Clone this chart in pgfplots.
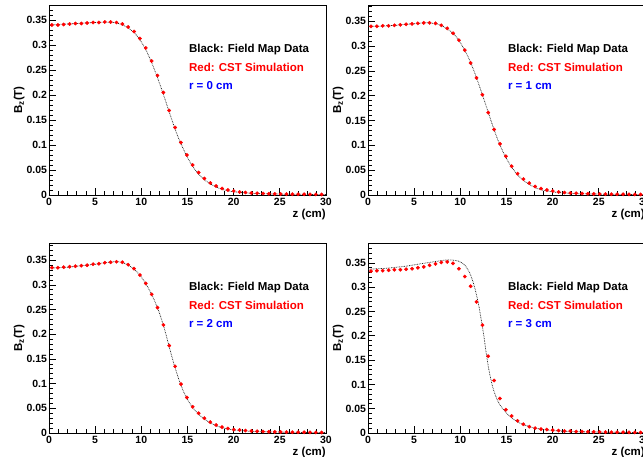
\documentclass[border=0pt]{standalone}
\usepackage{pgfplots}
\usepackage{pgfplotstable}
\pgfplotsset{compat=1.18}
\usepackage{fontspec}
\setmainfont{Liberation Sans}

\pgfplotstableread{
z     b0     b1     b2     b3
0     0.340  0.340  0.334  0.337
1     0.341  0.340  0.335  0.338
2     0.342  0.341  0.336  0.339
3     0.343  0.342  0.338  0.341
4     0.344  0.344  0.340  0.343
5     0.345  0.345  0.342  0.346
6     0.3455 0.347  0.345  0.349
6.5   0.3455 0.347  0.346  0.3505
7     0.345  0.346  0.347  0.352
7.5   0.343  0.345  0.347  0.3535
8     0.340  0.341  0.345  0.355
8.5   0.335  0.336  0.341  0.356
9     0.328  0.329  0.335  0.356
9.5   0.319  0.320  0.327  0.355
10    0.306  0.307  0.316  0.352
10.5  0.290  0.291  0.302  0.345
11    0.270  0.272  0.285  0.330
11.5  0.247  0.249  0.265  0.303
12    0.222  0.223  0.241  0.262
12.5  0.195  0.196  0.211  0.205
13    0.167  0.168  0.176  0.140
13.5  0.140  0.140  0.142  0.095
14    0.115  0.114  0.112  0.068
14.5  0.094  0.092  0.087  0.052
15    0.075  0.073  0.068  0.041
15.5  0.059  0.058  0.053  0.032
16    0.046  0.045  0.042  0.025
16.5  0.036  0.035  0.033  0.020
17    0.028  0.027  0.026  0.016
17.5  0.022  0.021  0.020  0.013
18    0.017  0.016  0.016  0.010
18.5  0.013  0.012  0.012  0.0085
19    0.010  0.0095 0.0095 0.007
19.5  0.008  0.0078 0.0078 0.006
20    0.0065 0.0063 0.0063 0.005
21    0.0045 0.0045 0.0045 0.0038
22    0.0033 0.0033 0.0033 0.003
23    0.0026 0.0026 0.0026 0.0025
24    0.0021 0.0021 0.0021 0.0021
25    0.0018 0.0018 0.0018 0.0018
26    0.0015 0.0015 0.0015 0.0015
27    0.0013 0.0013 0.0013 0.0013
28    0.0011 0.0011 0.0011 0.0011
29    0.0010 0.0010 0.0010 0.0010
30    0.0009 0.0009 0.0009 0.0009
}\blackdata

\pgfplotstableread{
z      r0     r1     r2     r3
0.32   0.340  0.340  0.335  0.333
0.96   0.340  0.340  0.335  0.334
1.59   0.341  0.341  0.336  0.334
2.23   0.342  0.341  0.337  0.335
2.86   0.343  0.342  0.338  0.336
3.50   0.343  0.343  0.339  0.336
4.13   0.344  0.344  0.340  0.337
4.77   0.345  0.345  0.342  0.338
5.40   0.345  0.346  0.343  0.340
6.04   0.346  0.347  0.345  0.342
6.67   0.346  0.347  0.346  0.345
7.31   0.345  0.346  0.347  0.348
7.94   0.342  0.342  0.346  0.351
8.58   0.336  0.336  0.341  0.352
9.21   0.327  0.326  0.333  0.349
9.85   0.313  0.312  0.320  0.338
10.48  0.294  0.292  0.303  0.322
11.12  0.268  0.266  0.281  0.302
11.75  0.239  0.236  0.254  0.270
12.39  0.205  0.202  0.219  0.222
13.02  0.169  0.166  0.177  0.158
13.66  0.135  0.132  0.135  0.108
14.29  0.105  0.103  0.099  0.071
14.93  0.080  0.078  0.072  0.048
15.56  0.060  0.058  0.053  0.035
16.20  0.045  0.043  0.040  0.025
16.83  0.033  0.032  0.030  0.018
17.47  0.024  0.024  0.022  0.013
18.10  0.018  0.017  0.016  0.010
18.74  0.013  0.013  0.012  0.008
19.37  0.010  0.010  0.009  0.007
20.01  0.008  0.008  0.007  0.006
20.64  0.006  0.006  0.006  0.005
21.28  0.005  0.005  0.005  0.004
21.91  0.004  0.004  0.004  0.004
22.55  0.0035 0.0035 0.0035 0.003
23.18  0.003  0.003  0.003  0.003
23.82  0.0025 0.0025 0.0025 0.0025
24.45  0.0022 0.0022 0.0022 0.0022
25.09  0.002  0.002  0.002  0.002
25.72  0.0018 0.0018 0.0018 0.0018
26.36  0.0016 0.0016 0.0016 0.0016
26.99  0.0015 0.0015 0.0015 0.0015
27.63  0.0014 0.0014 0.0014 0.0014
28.26  0.0013 0.0013 0.0013 0.0013
28.90  0.0012 0.0012 0.0012 0.0012
29.53  0.0011 0.0011 0.0011 0.0011
}\reddata

\newcommand\lab{\fontsize{11.5}{13}\selectfont\bfseries}
\newcommand\tlab{\fontsize{10.5}{12}\selectfont\bfseries}

\pgfplotsset{
  panel/.style={
    scale only axis, width=277pt, height=190pt, anchor=south west,
    xmin=0, xmax=30, ymin=0,
    xtick={0,5,10,15,20,25,30},
    xticklabels={0,5,10,15,20,25,30},
    ytick={0,0.05,0.1,0.15,0.2,0.25,0.3,0.35},
    yticklabels={0,0.05,0.1,0.15,0.2,0.25,0.3,0.35},
    scaled ticks=false,
    minor xtick={0,1,...,30},
    minor ytick={0,0.01,...,0.39},
    tick align=inside, xtick pos=bottom, ytick pos=left,
    major tick length=7pt, minor tick length=3.8pt,
    every tick/.style={black, line width=0.8pt},
    axis line style={line width=0.9pt},
    tick label style={font=\tlab},
    yticklabel style={xshift=1.5pt},
    xlabel={z (cm)}, ylabel={B\textsubscript{z}(T)},
    xlabel style={at={(axis description cs:1,0)}, anchor=north east, yshift=-13.5pt, inner sep=0pt, font=\lab},
    ylabel style={at={(axis description cs:-0.108,0.5)}, anchor=center, font=\lab},
    clip=true,
  },
  blk/.style={black!85, line width=0.75pt, dash pattern=on 0.75pt off 0.9pt, smooth},
  redpts/.style={only marks, mark=*, mark size=1.7pt, color=red},
}

\newcommand\legtext[1]{%
  \node[anchor=west, inner sep=0pt, font=\lab, text=black] at (rel axis cs:0.505,0.768) {Black: Field Map Data};
  \node[anchor=west, inner sep=0pt, font=\lab, text=red] at (rel axis cs:0.505,0.673) {Red: CST Simulation};
  \node[anchor=west, inner sep=0pt, font=\lab, text=blue] at (rel axis cs:0.505,0.575) {r = #1 cm};
}

\begin{document}
\begin{tikzpicture}
\clip (0,0) rectangle (643pt,457pt);

\begin{axis}[panel, at={(49pt,262pt)}, ymax=0.38]
  \addplot[blk] table[x=z, y=b0] {\blackdata};
  \addplot[redpts] table[x=z, y=r0] {\reddata};
  \legtext{0}
\end{axis}

\begin{axis}[panel, at={(368pt,262pt)}, ymax=0.383]
  \addplot[blk] table[x=z, y=b1] {\blackdata};
  \addplot[redpts] table[x=z, y=r1] {\reddata};
  \legtext{1}
\end{axis}

\begin{axis}[panel, at={(49pt,24pt)}, ymax=0.385]
  \addplot[blk] table[x=z, y=b2] {\blackdata};
  \addplot[redpts] table[x=z, y=r2] {\reddata};
  \legtext{2}
\end{axis}

\begin{axis}[panel, at={(368pt,24pt)}, ymax=0.391]
  \addplot[blk] table[x=z, y=b3] {\blackdata};
  \addplot[redpts] table[x=z, y=r3] {\reddata};
  \legtext{3}
\end{axis}
\end{tikzpicture}
\end{document}
